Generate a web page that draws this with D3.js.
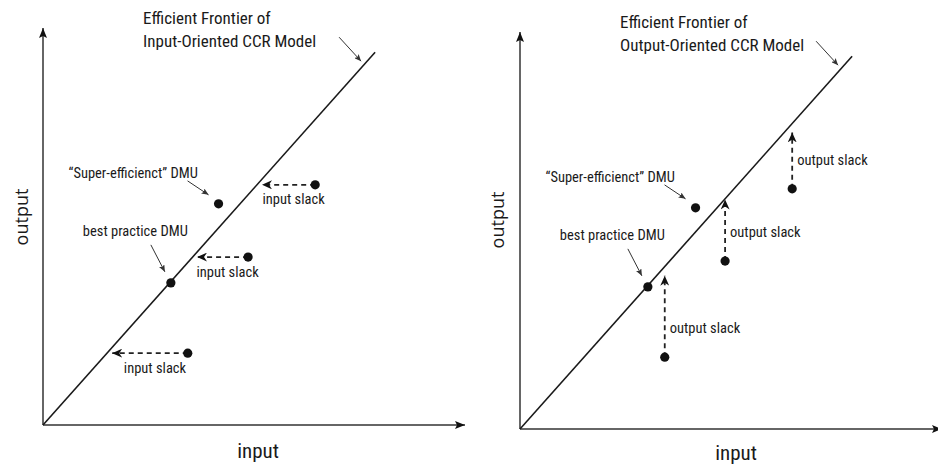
<!DOCTYPE html>
<html>
<head>
<meta charset="utf-8">
<script src="https://cdn.jsdelivr.net/npm/d3@7"></script>
<style>
  html, body { margin: 0; padding: 0; background: #fff; }
  svg { display: block; }
  .narrow { font-family: "Liberation Sans Narrow", "Arial Narrow", "Roboto Condensed", sans-serif; fill: #1a1a1a; }
  .wide { font-family: "Open Sans", "Noto Sans", sans-serif; fill: #1a1a1a; }
</style>
</head>
<body>
<svg id="chart" width="938" height="466"></svg>
<script>
// ---------------- data (input / output units) ----------------
const frontierInput  = [0, 7.87];
const frontierOutput = [0, 9.39];

const labeledDMUNames  = ["\u201cSuper-efficienct\u201d DMU", "best practice DMU"];
const labeledDMUInput  = [4.16, 3.03];
const labeledDMUOutput = [5.57, 3.58];

const slackDMUInput  = [6.45, 4.86, 3.43];
const slackDMUOutput = [6.05, 4.23, 1.81];
const inputTargets   = [5.19, 3.65, 1.64];   // projected input (left panel)
const outputTargets  = [7.47, 5.78, 3.86];   // projected output (right panel)

const panelTitles = [
  ["Efficient Frontier of", "Input-Oriented CCR Model"],
  ["Efficient Frontier of", "Output-Oriented CCR Model"]
];
const xAxisLabel = "input";
const yAxisLabel = "output";
const inputSlackLabel = "input slack";
const outputSlackLabel = "output slack";
const axisDomain = [0, 10];

// ---------------- drawing ----------------
const svg = d3.select("#chart");
const defs = svg.append("defs");

defs.append("marker").attr("id", "axisHead")
  .attr("viewBox", "0 0 10 8").attr("refX", 10).attr("refY", 4)
  .attr("markerWidth", 10).attr("markerHeight", 8)
  .attr("markerUnits", "userSpaceOnUse").attr("orient", "auto")
  .append("path").attr("d", "M0,0 L10,4 L0,8 L2,4 Z").attr("fill", "#111");

defs.append("marker").attr("id", "slackHead")
  .attr("viewBox", "0 0 10 9").attr("refX", 10).attr("refY", 4.5)
  .attr("markerWidth", 10).attr("markerHeight", 9)
  .attr("markerUnits", "userSpaceOnUse").attr("orient", "auto")
  .append("path").attr("d", "M0,0 L10,4.5 L0,9 L3,4.5 Z").attr("fill", "#111");

defs.append("marker").attr("id", "pointerHead")
  .attr("viewBox", "0 0 7 6").attr("refX", 7).attr("refY", 3)
  .attr("markerWidth", 7).attr("markerHeight", 6)
  .attr("markerUnits", "userSpaceOnUse").attr("orient", "auto")
  .append("path").attr("d", "M0,0 L7,3 L0,6 L1.5,3 Z").attr("fill", "#333");

const panels = [
  { orientation: "input",  xRange: [43, 465],  yRange: [425, 28], ylabX: 21,  ylabY: 217, xlabX: 258, xlabY: 458 },
  { orientation: "output", xRange: [520, 942], yRange: [429, 32], ylabX: 497, ylabY: 220, xlabX: 736, xlabY: 460 }
];

panels.forEach((p, pi) => {
  const x = d3.scaleLinear().domain(axisDomain).range(p.xRange);
  const y = d3.scaleLinear().domain(axisDomain).range(p.yRange);
  const g = svg.append("g");

  // axes
  g.append("line")
    .attr("x1", x(0)).attr("y1", y(0)).attr("x2", x(axisDomain[1])).attr("y2", y(0))
    .attr("stroke", "#666").attr("stroke-width", 2).attr("marker-end", "url(#axisHead)");
  g.append("line")
    .attr("x1", x(0)).attr("y1", y(0)).attr("x2", x(0)).attr("y2", y(axisDomain[1]))
    .attr("stroke", "#666").attr("stroke-width", 2).attr("marker-end", "url(#axisHead)");

  // axis labels
  g.append("text").attr("class", "narrow")
    .attr("x", p.xlabX).attr("y", p.xlabY)
    .attr("text-anchor", "middle").attr("font-size", 21)
    .text(xAxisLabel);
  g.append("text").attr("class", "wide")
    .attr("transform", `translate(${p.ylabX},${p.ylabY}) rotate(-90)`)
    .attr("text-anchor", "middle").attr("dominant-baseline", "central")
    .attr("font-size", 18)
    .text(yAxisLabel);

  // frontier
  const frontier = frontierInput.map((v, i) => [v, frontierOutput[i]]);
  g.append("path")
    .datum(frontier)
    .attr("d", d3.line().x(d => x(d[0])).y(d => y(d[1])))
    .attr("fill", "none").attr("stroke", "#1a1a1a").attr("stroke-width", 1.6);

  // title and pointer
  const fx = x(frontierInput[1]), fy = y(frontierOutput[1]);
  const title = g.append("text").attr("class", "narrow").attr("font-size", 17);
  panelTitles[pi].forEach((t, i) => {
    title.append("tspan").attr("x", fx - 232).attr("y", fy - 28 + i * 22.5).text(t);
  });
  g.append("line")
    .attr("x1", fx - 36).attr("y1", fy - 15).attr("x2", fx - 14).attr("y2", fy + 9)
    .attr("stroke", "#333").attr("stroke-width", 1).attr("marker-end", "url(#pointerHead)");

  // slack arrows
  slackDMUInput.forEach((xi, i) => {
    const yi = slackDMUOutput[i];
    const tx = p.orientation === "input" ? inputTargets[i] : xi;
    const ty = p.orientation === "input" ? yi : outputTargets[i];
    g.append("line")
      .attr("x1", x(xi)).attr("y1", y(yi)).attr("x2", x(tx)).attr("y2", y(ty))
      .attr("stroke", "#222").attr("stroke-width", 1.8)
      .attr("stroke-dasharray", "5,4")
      .attr("marker-end", "url(#slackHead)");
    if (p.orientation === "input") {
      g.append("text").attr("class", "narrow").attr("font-size", 14.5)
        .attr("x", (x(xi) + x(tx)) / 2 + 5).attr("y", y(yi) + 19.5)
        .attr("text-anchor", "middle").text(inputSlackLabel);
    } else {
      g.append("text").attr("class", "narrow").attr("font-size", 14.5)
        .attr("x", x(xi) + 5).attr("y", y(yi) - 24)
        .text(outputSlackLabel);
    }
  });

  // DMU points (slack)
  g.selectAll("circle.slack").data(slackDMUInput).join("circle")
    .attr("class", "slack")
    .attr("cx", d => x(d)).attr("cy", (d, i) => y(slackDMUOutput[i]))
    .attr("r", 4.6).attr("fill", "#111");

  // labeled DMUs
  const labelOffsets = [
    { tx: -150, ty: -26, p1: [-31, -23], p2: [-10, -9] },
    { tx: -88,  ty: -47, p1: [-20, -38], p2: [-6, -11] }
  ];
  labeledDMUInput.forEach((xi, i) => {
    const cx = x(xi), cy = y(labeledDMUOutput[i]);
    const o = labelOffsets[i];
    g.append("circle").attr("cx", cx).attr("cy", cy).attr("r", 4.6).attr("fill", "#111");
    g.append("text").attr("class", "narrow").attr("font-size", 14.5)
      .attr("x", cx + o.tx).attr("y", cy + o.ty).text(labeledDMUNames[i]);
    g.append("line")
      .attr("x1", cx + o.p1[0]).attr("y1", cy + o.p1[1])
      .attr("x2", cx + o.p2[0]).attr("y2", cy + o.p2[1])
      .attr("stroke", "#333").attr("stroke-width", 1).attr("marker-end", "url(#pointerHead)");
  });
});
</script>
</body>
</html>
